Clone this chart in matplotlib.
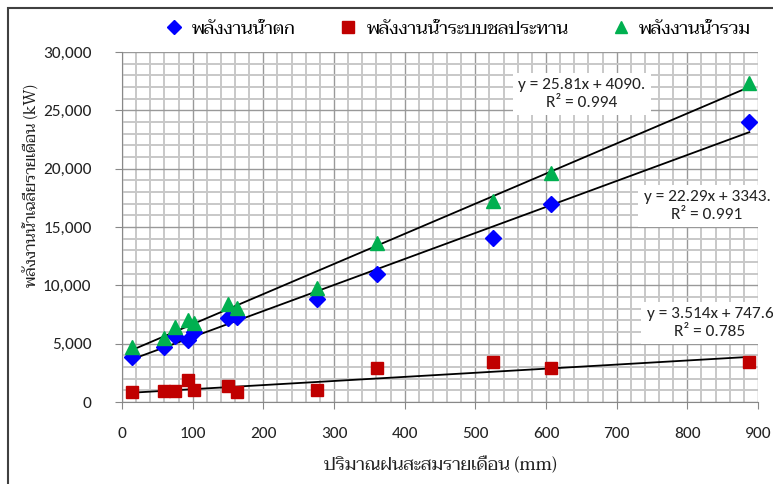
import matplotlib
matplotlib.use("Agg")
import matplotlib.pyplot as plt
from matplotlib import font_manager
from matplotlib.lines import Line2D
from matplotlib.patches import Rectangle
from matplotlib.ticker import MultipleLocator, FuncFormatter
import numpy as np

# ปริมาณฝนสะสมรายเดือน (mm)
rain = [13.7, 59.4, 75.0, 92.7, 102.3, 149.3, 163.4, 275.5, 361.3, 524.5, 607.0, 887.7]
# พลังงานน้ำตก (kW)
fall = [3890, 4690, 5660, 5310, 6030, 7230, 7310, 8830, 10940, 14030, 16970, 24030]
# พลังงานน้ำระบบชลประทาน (kW)
irri = [860, 970, 970, 1890, 1030, 1370, 890, 1030, 2890, 3430, 2890, 3460]
# พลังงานน้ำรวม (kW)
total = [4690, 5460, 6450, 7030, 6740, 8400, 8030, 9800, 13600, 17230, 19660, 27310]

# สมการเส้นแนวโน้ม (slope, intercept, R2)
fit_fall = (22.29, 3343, 0.991)
fit_irri = (3.514, 747.6, 0.785)
fit_total = (25.81, 4090, 0.994)

names = ["พลังงานน้ำตก", "พลังงานน้ำระบบชลประทาน", "พลังงานน้ำรวม"]


def pick(cands):
    for c in cands:
        try:
            font_manager.findfont(font_manager.FontProperties(family=c),
                                  fallback_to_default=False)
            return c
        except ValueError:
            pass
    return "DejaVu Sans"


thai = pick(["Taviraj", "Trirong", "Pridi", "Noto Serif Thai", "Sarabun"])
num = pick(["Carlito", "Lato", "Open Sans", "DejaVu Sans"])
plt.rcParams["font.family"] = [num, "DejaVu Sans"]
thai_fam = [thai, "Liberation Serif", "DejaVu Sans"]

fig = plt.figure(figsize=(7.73, 4.84), dpi=100)
W, H = 773.0, 484.0
ax = fig.add_axes([122 / W, 1 - 402 / H, 636 / W, 350 / H])

# กรอบของแผนภูมิ
fig.patches.append(Rectangle((8 / W, -0.1), 1.2, 1 - 8 / H + 0.1, transform=fig.transFigure,
                             fill=False, ec="#404040", lw=1.5))

ax.set_xlim(0, 900)
ax.set_ylim(0, 30000)
ax.xaxis.set_major_locator(MultipleLocator(100))
ax.xaxis.set_minor_locator(MultipleLocator(20))
ax.yaxis.set_major_locator(MultipleLocator(5000))
ax.yaxis.set_minor_locator(MultipleLocator(1000))
ax.yaxis.set_major_formatter(FuncFormatter(lambda v, p: "{:,.0f}".format(v)))
ax.grid(True, which="major", color="#999999", lw=1.0)
ax.grid(True, which="minor", color="#c8c8c8", lw=1.4)
ax.set_axisbelow(True)
for s in ["top", "right"]:
    ax.spines[s].set_visible(False)
for s in ["left", "bottom"]:
    ax.spines[s].set_color("#888888")
ax.tick_params(which="major", length=5, color="#888888", labelsize=12.5, colors="#222222")
ax.tick_params(axis="x", which="major", pad=13)
ax.tick_params(axis="y", which="major", pad=17)
ax.tick_params(which="minor", length=0)

ax.plot(rain, fall, "D", color="#0000ff", ms=8, clip_on=False, zorder=4)
ax.plot(rain, irri, "s", color="#c00000", ms=8.5, clip_on=False, zorder=4)
ax.plot(rain, total, "^", color="#00b050", ms=9.5, clip_on=False, zorder=4)

xs = np.array([min(rain), max(rain)])
for a, b, r in [fit_fall, fit_irri, fit_total]:
    ax.plot(xs, a * xs + b, color="black", lw=1.3, zorder=3)

# ป้ายสมการ
def eq_label(fit, cx, cy, dec):
    a, b, r = fit
    txt = "y = {}x + {}\nR² = {:.3f}".format(a, dec, r)
    fig.text(cx / W, 1 - cy / H, txt, ha="center", va="center", fontsize=12.5,
             linespacing=1.3, color="#222222",
             bbox=dict(boxstyle="square,pad=0.3", fc="white", ec="none"))

eq_label(fit_total, 582, 94, "4090.")
eq_label(fit_fall, 707, 206, "3343.")
eq_label(fit_irri, 710, 323, "747.6")

handles = [Line2D([], [], ls="", marker="D", color="#0000ff", ms=7),
           Line2D([], [], ls="", marker="s", color="#c00000", ms=8),
           Line2D([], [], ls="", marker="^", color="#00b050", ms=9)]
fig.legend(handles, names, loc="center", bbox_to_anchor=(458 / W, 1 - 29 / H), ncol=3,
           frameon=False, handlelength=1.0, handletextpad=0.5, columnspacing=2.4,
           prop=dict(family=thai_fam, size=13))

fig.text(440 / W, 1 - 466 / H, "ปริมาณฝนสะสมรายเดือน (mm)", ha="center", va="center",
         family=thai_fam, fontsize=13, color="#222222")
fig.text(32 / W, 1 - 186 / H, "พลังงานน้ำเฉลี่ยรายเดือน (kW)", ha="center", va="center",
         rotation=90, family=thai_fam, fontsize=11.5, color="#222222")

fig.savefig("out.png", dpi=100)
